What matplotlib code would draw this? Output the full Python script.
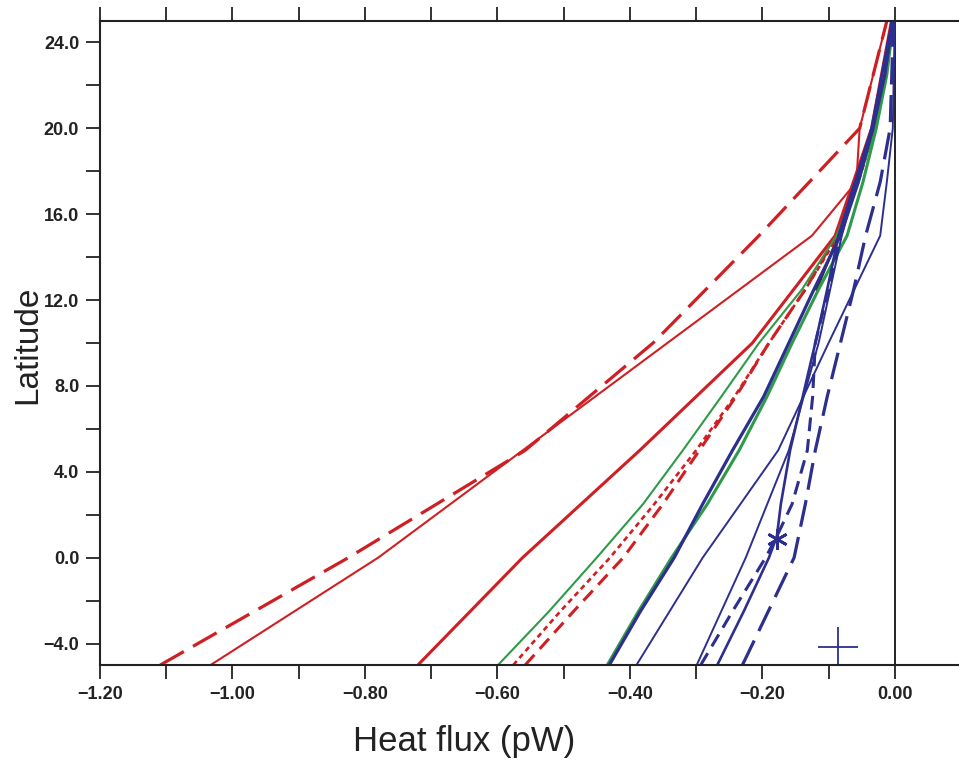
import matplotlib
matplotlib.use("Agg")
import matplotlib.pyplot as plt
import numpy as np

# latitude grids (deg)
lat_a = [-5, 0, 5, 10, 15, 20, 25]
lat_b = [-5, -2.5, 0, 2.5, 5, 7.5, 10, 12.5, 15, 17.5, 20, 22.5, 25]

# red curves
red_longdash = [-1.109, -0.825, -0.558, -0.365, -0.205, -0.053, -0.012]
lat_red_thin = [-5, 0, 15, 17.5, 20, 25]
red_thin = [-1.033, -0.78, -0.125, -0.058, -0.053, -0.012]
red_thick = [-0.72, -0.562, -0.385, -0.215, -0.09, -0.035, -0.005]
red_dot = [-0.576, -0.505, -0.43, -0.363, -0.30, -0.242, -0.19, -0.135, -0.085, -0.055, -0.03, -0.013, -0.002]
red_dash = [-0.558, -0.485, -0.41, -0.35, -0.295, -0.24, -0.19, -0.135, -0.088, -0.057, -0.032, -0.015, -0.003]

# green curves
green_thin = [-0.599, -0.522, -0.45, -0.38, -0.32, -0.262, -0.205, -0.14, -0.088, -0.055, -0.03, -0.013, -0.002]
green_thick = [-0.434, -0.387, -0.337, -0.283, -0.235, -0.193, -0.155, -0.115, -0.072, -0.048, -0.028, -0.012, -0.002]

# black curve (only visible near the top)
lat_black = [12.5, 15, 17.5, 20, 22.5, 25]
black = [-0.118, -0.085, -0.056, -0.031, -0.014, -0.002]

# blue curves
blue_thick = [-0.431, -0.384, -0.333, -0.29, -0.245, -0.198, -0.16, -0.122, -0.082, -0.055, -0.033, -0.015, -0.003]
lat_blue_thin1 = [-5, 0, 5, 10, 15, 17.5, 20, 25]
blue_thin1 = [-0.39, -0.29, -0.176, -0.10, -0.022, -0.012, -0.003, 0.0]
blue_thin2 = [-0.299, -0.225, -0.16, -0.115, -0.08, -0.035, -0.004]
lat_blue_mid = [-5, -2.5, 0, 1, 2.5, 5, 7.5, 10, 12.5, 15, 20, 25]
blue_mid = [-0.268, -0.228, -0.19, -0.178, -0.172, -0.158, -0.139, -0.12, -0.102, -0.085, -0.035, -0.004]
lat_blue_dash = [-5, -2.5, 0, 1, 2.5, 5, 7.5, 10, 12.5, 15, 17.5, 20, 25]
blue_dash = [-0.293, -0.245, -0.195, -0.178, -0.155, -0.132, -0.124, -0.12, -0.10, -0.082, -0.06, -0.033, -0.004]
lat_blue_longdash = [-5, 0, 2.5, 5, 7.5, 10, 12.5, 15, 17.5, 20, 25]
blue_longdash = [-0.23, -0.152, -0.135, -0.12, -0.102, -0.082, -0.062, -0.044, -0.022, -0.007, -0.002]

# single markers
star_pt = (-0.178, 0.88)
plus_pt = (-0.086, -4.14)

RED = '#d01f22'
GREEN = '#2f9a48'
BLUE = '#2d2f8e'


def fmt(v, nd):
    s = '%.*f' % (nd, v)
    if float(s) == 0:
        s = '%.*f' % (nd, 0.0)
    return s.replace('-', '\u2212')


fig = plt.figure(figsize=(9.59, 7.61), dpi=100)
ax = fig.add_axes([100/959, 96/761, 861/959, 644/761])

ax.axvline(0, color='#222222', lw=1.4, zorder=1)

ax.plot(black, lat_black, color='#333333', lw=2.0)

ax.plot(red_longdash, lat_a, color=RED, lw=2.3, dashes=(8.5, 3.3))
ax.plot(red_thin, lat_red_thin, color=RED, lw=1.5)
ax.plot(red_thick, lat_a, color=RED, lw=2.2)
ax.plot(red_dot, lat_b, color=RED, lw=1.9, dashes=(2.0, 1.5))
ax.plot(red_dash, lat_b, color=RED, lw=2.2, dashes=(4.5, 2.6))

ax.plot(green_thin, lat_b, color=GREEN, lw=1.5)
ax.plot(green_thick, lat_b, color=GREEN, lw=2.2)

ax.plot(blue_thick, lat_b, color=BLUE, lw=2.3)
ax.plot(blue_thin1, lat_blue_thin1, color=BLUE, lw=1.4)
ax.plot(blue_thin2, lat_a, color=BLUE, lw=1.4)
ax.plot(blue_mid, lat_blue_mid, color=BLUE, lw=1.9)
ax.plot(blue_dash, lat_blue_dash, color=BLUE, lw=2.2, dashes=(4.5, 2.6))
ax.plot(blue_longdash, lat_blue_longdash, color=BLUE, lw=2.3, dashes=(8.5, 3.3))

ax.plot([star_pt[0]], [star_pt[1]], marker=(6, 2, 0), ms=15, mew=2.0, color=BLUE, ls='none')
ax.plot([plus_pt[0]], [plus_pt[1]], marker='+', ms=29, mew=1.3, color=BLUE, ls='none')

ax.set_xlim(-1.2, 0.1)
ax.set_ylim(-5, 25)

ax.set_xticks(np.round(np.arange(-1.2, 0.01, 0.2), 2))
ax.set_xticks(np.round(np.arange(-1.1, 0.01, 0.2), 2), minor=True)
ax.set_yticks(np.arange(-4, 25, 4))
ax.set_yticks(np.arange(-2, 25, 4), minor=True)
ax.xaxis.set_major_formatter(plt.FuncFormatter(lambda v, p: fmt(v, 2)))
ax.yaxis.set_major_formatter(plt.FuncFormatter(lambda v, p: fmt(v, 1)))

for which in ('major', 'minor'):
    ax.tick_params(axis='both', which=which, direction='out', length=10, width=1.3,
                   color='#222222', top=True, right=False, labeltop=False, pad=5)
for lab in ax.get_xticklabels() + ax.get_yticklabels():
    lab.set_fontfamily('Liberation Sans')
    lab.set_fontweight('bold')
    lab.set_fontsize(13)
    lab.set_color('#222222')

for side in ('left', 'bottom', 'top'):
    ax.spines[side].set_linewidth(1.5)
    ax.spines[side].set_color('#222222')
ax.spines['right'].set_visible(False)

fig.text(28/959, 1 - 345/761, 'Latitude', rotation=90, ha='center', va='center',
         fontsize=24, family='Liberation Sans', color='#222222')
fig.text(464/959, 1 - 742/761, 'Heat flux (pW)', ha='center', va='center',
         fontsize=25, family='Liberation Sans', color='#222222')

fig.savefig('out.png', dpi=100)
